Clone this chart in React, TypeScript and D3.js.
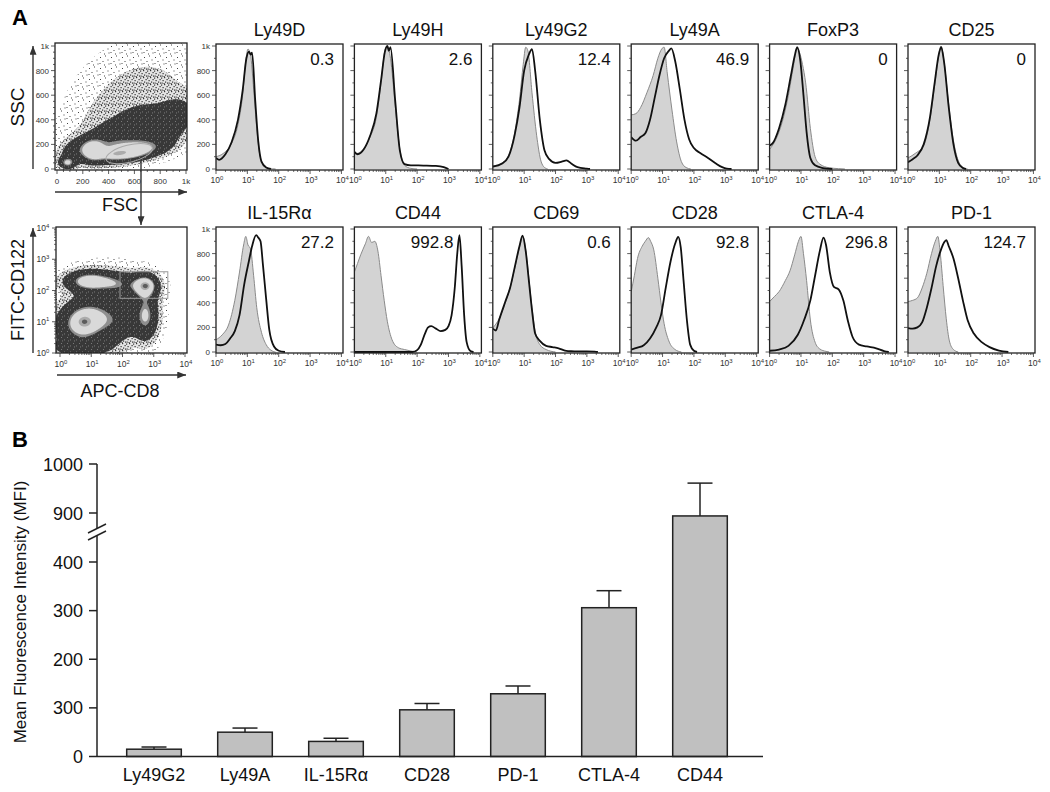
import React, { useEffect, useRef } from "react";
import * as d3 from "d3";

// ---------- panel A: histograms (x in log10 units, y = count) ----------
const histTitles = ["Ly49D", "Ly49H", "Ly49G2", "Ly49A", "FoxP3", "CD25", "IL-15R\u03b1", "CD44", "CD69", "CD28", "CTLA-4", "PD-1"];
const histValues = ["0.3", "2.6", "12.4", "46.9", "0", "0", "27.2", "992.8", "0.6", "92.8", "296.8", "124.7"];

const ly49dCtrl = [[0, 100], [0.25, 130], [0.5, 210], [0.7, 360], [0.85, 600], [0.95, 880], [1.02, 975], [1.1, 930], [1.2, 650], [1.3, 330], [1.4, 110], [1.55, 25], [1.7, 4], [1.9, 0]];
const ly49dStain = [[0, 90], [0.1, 75], [0.3, 120], [0.5, 220], [0.7, 400], [0.85, 640], [0.97, 900], [1.05, 955], [1.1, 930], [1.15, 945], [1.25, 560], [1.35, 220], [1.45, 60], [1.6, 12], [1.75, 0]];
const ly49hCtrl = [[0, 120], [0.25, 150], [0.5, 260], [0.7, 420], [0.85, 700], [0.97, 960], [1.05, 1000], [1.15, 900], [1.3, 520], [1.45, 160], [1.6, 30], [1.8, 5], [2.0, 0]];
const ly49hStain = [[0, 140], [0.1, 120], [0.3, 160], [0.5, 270], [0.7, 450], [0.85, 720], [0.97, 950], [1.05, 1000], [1.1, 960], [1.15, 990], [1.3, 560], [1.45, 150], [1.6, 40], [1.8, 30], [2.2, 28], [2.6, 25], [2.85, 15], [3.0, 0]];
const ly49g2Ctrl = [[0, 25], [0.3, 50], [0.5, 110], [0.7, 300], [0.85, 560], [0.97, 850], [1.05, 990], [1.12, 960], [1.25, 620], [1.4, 270], [1.52, 80], [1.62, 20], [1.75, 0]];
const ly49g2Stain = [[0, 20], [0.3, 45], [0.5, 100], [0.7, 280], [0.85, 500], [1.0, 800], [1.15, 930], [1.25, 975], [1.35, 800], [1.5, 400], [1.65, 150], [1.8, 80], [2.0, 50], [2.2, 60], [2.35, 70], [2.5, 45], [2.7, 15], [3.0, 3], [3.1, 0]];
const ly49aCtrl = [[0, 440], [0.15, 450], [0.3, 500], [0.5, 620], [0.7, 760], [0.85, 900], [0.97, 975], [1.05, 990], [1.15, 780], [1.3, 480], [1.45, 220], [1.6, 60], [1.75, 12], [1.9, 0]];
const ly49aStain = [[0, 260], [0.15, 230], [0.3, 260], [0.45, 290], [0.6, 400], [0.75, 580], [0.9, 760], [1.05, 900], [1.2, 960], [1.28, 980], [1.4, 880], [1.55, 650], [1.7, 400], [1.85, 240], [2.0, 170], [2.2, 130], [2.45, 90], [2.7, 45], [2.9, 15], [3.05, 3], [3.2, 0]];
const foxp3Ctrl = [[0, 160], [0.2, 240], [0.4, 380], [0.6, 600], [0.75, 820], [0.88, 980], [0.95, 950], [1.05, 850], [1.15, 700], [1.3, 330], [1.45, 100], [1.6, 40], [1.9, 10], [2.2, 3], [2.4, 0]];
const foxp3Stain = [[0, 190], [0.1, 210], [0.3, 330], [0.5, 520], [0.68, 760], [0.8, 920], [0.88, 990], [0.98, 880], [1.08, 600], [1.18, 300], [1.3, 90], [1.45, 30], [1.7, 8], [2.0, 0]];
const cd25Ctrl = [[0, 90], [0.25, 130], [0.5, 190], [0.7, 400], [0.85, 680], [0.98, 920], [1.05, 1000], [1.15, 870], [1.3, 520], [1.45, 230], [1.6, 70], [1.75, 15], [1.9, 0]];
const cd25Stain = [[0, 55], [0.15, 80], [0.3, 110], [0.5, 200], [0.7, 420], [0.85, 700], [0.98, 930], [1.06, 990], [1.15, 870], [1.3, 500], [1.45, 200], [1.6, 50], [1.75, 8], [1.85, 0]];
const il15raCtrl = [[0, 100], [0.2, 140], [0.4, 220], [0.6, 420], [0.75, 650], [0.88, 870], [0.95, 940], [1.02, 870], [1.1, 840], [1.2, 620], [1.3, 360], [1.45, 160], [1.6, 60], [1.75, 15], [1.9, 0]];
const il15raStain = [[0, 60], [0.15, 55], [0.3, 65], [0.45, 110], [0.6, 170], [0.75, 300], [0.9, 550], [1.05, 740], [1.15, 860], [1.28, 950], [1.35, 930], [1.42, 900], [1.5, 700], [1.6, 430], [1.7, 180], [1.85, 45], [2.0, 10], [2.2, 0]];
const cd44Ctrl = [[0, 650], [0.1, 720], [0.2, 790], [0.35, 880], [0.45, 940], [0.55, 890], [0.65, 900], [0.75, 820], [0.85, 620], [0.95, 420], [1.05, 250], [1.2, 100], [1.4, 35], [1.6, 20], [1.8, 8], [2.0, 0]];
const cd44Stain = [[0, 0], [1.85, 0], [2.0, 15], [2.12, 60], [2.25, 150], [2.35, 200], [2.45, 210], [2.6, 190], [2.75, 170], [2.9, 180], [3.0, 210], [3.1, 300], [3.2, 520], [3.28, 800], [3.35, 950], [3.42, 700], [3.5, 300], [3.58, 80], [3.7, 8], [3.8, 0]];
const cd69Ctrl = [[0, 195], [0.2, 270], [0.4, 400], [0.55, 520], [0.7, 680], [0.85, 850], [0.95, 940], [1.05, 830], [1.15, 600], [1.25, 360], [1.35, 170], [1.5, 60], [1.7, 20], [2.0, 0]];
const cd69Stain = [[0, 190], [0.1, 175], [0.2, 260], [0.4, 410], [0.55, 520], [0.7, 690], [0.85, 860], [0.95, 945], [1.05, 820], [1.15, 580], [1.25, 340], [1.35, 150], [1.5, 90], [1.7, 50], [1.9, 40], [2.1, 30], [2.3, 12], [2.5, 6], [3.0, 5], [3.25, 3], [3.35, 0]];
const cd28Ctrl = [[0, 490], [0.1, 620], [0.2, 760], [0.35, 860], [0.45, 900], [0.55, 930], [0.62, 900], [0.72, 830], [0.85, 600], [0.95, 400], [1.05, 230], [1.2, 90], [1.4, 20], [1.6, 0]];
const cd28Stain = [[0, 20], [0.2, 35], [0.4, 55], [0.6, 110], [0.8, 200], [0.95, 300], [1.1, 520], [1.25, 730], [1.4, 880], [1.5, 935], [1.58, 850], [1.67, 580], [1.78, 250], [1.88, 60], [2.0, 10], [2.1, 0]];
const ctla4Ctrl = [[0, 410], [0.15, 450], [0.3, 490], [0.5, 580], [0.65, 660], [0.8, 790], [0.92, 900], [1.0, 940], [1.08, 800], [1.18, 580], [1.3, 260], [1.45, 80], [1.6, 25], [1.8, 5], [1.9, 0]];
const ctla4Stain = [[0, 10], [0.3, 20], [0.6, 50], [0.9, 140], [1.1, 260], [1.3, 420], [1.45, 620], [1.6, 820], [1.72, 930], [1.8, 870], [1.92, 650], [2.05, 530], [2.2, 510], [2.35, 420], [2.5, 250], [2.65, 120], [2.85, 60], [3.1, 45], [3.4, 30], [3.65, 8], [3.8, 0]];
const pd1Ctrl = [[0, 410], [0.15, 420], [0.3, 440], [0.45, 520], [0.6, 640], [0.75, 800], [0.87, 900], [0.95, 940], [1.03, 800], [1.12, 540], [1.22, 270], [1.32, 90], [1.45, 20], [1.6, 0]];
const pd1Stain = [[0, 195], [0.15, 190], [0.3, 200], [0.45, 240], [0.6, 360], [0.75, 520], [0.9, 700], [1.05, 830], [1.15, 890], [1.22, 910], [1.3, 860], [1.45, 760], [1.6, 600], [1.75, 420], [1.9, 260], [2.1, 150], [2.35, 80], [2.6, 40], [2.9, 12], [3.2, 0]];

const histCtrl = [ly49dCtrl, ly49hCtrl, ly49g2Ctrl, ly49aCtrl, foxp3Ctrl, cd25Ctrl, il15raCtrl, cd44Ctrl, cd69Ctrl, cd28Ctrl, ctla4Ctrl, pd1Ctrl];
const histStain = [ly49dStain, ly49hStain, ly49g2Stain, ly49aStain, foxp3Stain, cd25Stain, il15raStain, cd44Stain, cd69Stain, cd28Stain, ctla4Stain, pd1Stain];

const countTicks = [0, 200, 400, 600, 800, 1000];
const countTickLabels = ["0", "200", "400", "600", "800", "1k"];
const decades = [0, 1, 2, 3, 4];

// ---------- panel A: dot plots, populations ----------
// [x, y, sdX, sdY, corr, height]
const fscSscClusters = [
  [650, 560, 300, 260, 0.3, 0.12],
  [580, 650, 320, 300, 0.2, 0.05],
  [360, 330, 220, 170, 0.3, 0.07],
  [150, 150, 90, 70, 0.3, 0.4],
  [400, 230, 130, 85, 0.3, 0.4],
  [680, 320, 150, 110, 0.3, 0.38],
  [920, 400, 100, 120, 0.3, 0.34],
  [280, 150, 55, 55, 0, 0.85],
  [560, 140, 165, 55, 0.45, 1.15],
  [470, 125, 50, 18, 0.3, 0.6],
  [80, 50, 40, 30, 0, 0.75],
];
const fscTicks = [0, 200, 400, 600, 800, 1000];
const fscTickLabels = ["0", "200", "400", "600", "800", "1k"];
const lymphGate = [560, 125, 185, 70, -14]; // cx, cy, rx, ry, rotation deg

const cd8Cd122Clusters = [
  [1.6, 1.6, 1.3, 1.1, 0, 0.12],
  [0.8, 1.0, 0.55, 0.45, 0.15, 1.0],
  [0.78, 1.0, 0.15, 0.12, 0, 0.5],
  [0.95, 2.3, 0.5, 0.22, 0, 0.9],
  [2.72, 2.15, 0.28, 0.25, 0, 0.95],
  [2.74, 2.15, 0.1, 0.08, 0, 0.5],
  [2.75, 1.2, 0.25, 0.5, 0, 0.7],
  [1.9, 2.2, 0.4, 0.25, 0, 0.45],
  [1.9, 1.0, 0.4, 0.45, 0, 0.35],
  [0.7, 0.15, 0.7, 0.2, 0, 0.35],
];
const cd8Gate = [1.92, 3.45, 1.75, 2.6]; // x0, x1, y0, y1 (log10)

// ---------- panel B: bar chart ----------
const barCategories = ["Ly49G2", "Ly49A", "IL-15R\u03b1", "CD28", "PD-1", "CTLA-4", "CD44"];
const barMeans = [15, 50, 31, 96, 129, 306, 894];
const barErrors = [4.5, 8.5, 6.5, 13, 16, 35, 67];
const mfiTicks = [0, 100, 200, 300, 400, 900, 1000];
const mfiTickLabels = ["0", "300", "200", "300", "400", "900", "1000"];

const FONT = "'Liberation Sans', Arial, Helvetica, sans-serif";

type Sel = d3.Selection<any, unknown, null, undefined>;

function logLabel(g: Sel, x: number, y: number, d: number, size: number) {
  const t = g.append("text").attr("x", x).attr("y", y).attr("text-anchor", "middle")
    .attr("font-size", size).attr("fill", "#333");
  t.append("tspan").text("10");
  t.append("tspan").attr("dy", -size * 0.4).attr("font-size", size * 0.7).text(String(d));
}

function mixture(cl: number[][], x: number, y: number) {
  let s = 0;
  for (const [mx, my, sx, sy, r, w] of cl) {
    const dx = (x - mx) / sx, dy = (y - my) / sy;
    s += w * Math.exp((-0.5 * (dx * dx - 2 * r * dx * dy + dy * dy)) / (1 - r * r));
  }
  return s;
}

function densityPlot(g: Sel, cl: number[][], x: d3.ScaleLinear<number, number>, y: d3.ScaleLinear<number, number>,
  box: number[], levels: number[], fills: string[]) {
  const [bx, by, bw, bh] = box;
  const vals = new Array(bw * bh);
  for (let j = 0; j < bh; j++) {
    for (let i = 0; i < bw; i++) {
      vals[j * bw + i] = mixture(cl, x.invert(bx + i + 0.5), y.invert(by + j + 0.5));
    }
  }
  const cs = d3.contours().size([bw, bh]).thresholds(levels)(vals);
  const path = d3.geoPath(d3.geoIdentity().translate([bx, by]) as any);
  g.selectAll(null).data(cs).enter().append("path")
    .attr("d", (d: any) => path(d) as string)
    .attr("fill", (_d, i) => fills[i]);
}

function speckle(defs: Sel, id: string, size: number, bg: string, dot: string, pts: number[][], s: number) {
  const p = defs.append("pattern").attr("id", id).attr("patternUnits", "userSpaceOnUse")
    .attr("width", size).attr("height", size);
  if (bg !== "none") p.append("rect").attr("width", size).attr("height", size).attr("fill", bg);
  pts.forEach(([cx, cy]) => p.append("rect").attr("x", cx).attr("y", cy).attr("width", s).attr("height", s).attr("fill", dot));
}

export default function App() {
  const ref = useRef<SVGSVGElement>(null);

  useEffect(() => {
    const svg = d3.select(ref.current) as unknown as Sel;
    svg.selectAll("*").remove();
    const defs = svg.append("defs");

    // textures for the dot-plot density levels
    speckle(defs, "dotsSparse", 11, "none", "#444",
      [[1, 2], [6, 0.5], [3.5, 6], [8.5, 4.5], [5, 9.5], [9.5, 8.5], [0.5, 8]], 1);
    speckle(defs, "dotsDense", 7, "#e4e4e4", "#333",
      [[0, 0.5], [3, 0], [5.5, 2], [1.5, 3], [4, 4.5], [0.5, 5.5], [6, 5.5], [2.5, 6]], 1.2);
    speckle(defs, "dotsDark", 6, "#383838", "#8a8a8a",
      [[1, 1], [4, 3.5], [2, 4.5]], 0.9);

    defs.append("marker").attr("id", "arrow").attr("viewBox", "0 0 10 8").attr("refX", 10).attr("refY", 4)
      .attr("markerWidth", 9).attr("markerHeight", 7).attr("markerUnits", "userSpaceOnUse").attr("orient", "auto")
      .append("path").attr("d", "M0,0L10,4L0,8z").attr("fill", "#333");

    // panel letters
    svg.append("text").attr("x", 12).attr("y", 25).attr("font-size", 22).attr("font-weight", "bold").text("A");
    svg.append("text").attr("x", 12).attr("y", 447).attr("font-size", 22).attr("font-weight", "bold").text("B");

    // ---------- histograms ----------
    const boxW = 127, boxH = 126;
    const rowTops = [44, 227];
    histTitles.forEach((title, k) => {
      const col = k % 6, row = Math.floor(k / 6);
      const left = 216 + col * 138.4, top = rowTops[row];
      const bottom = top + boxH;
      const g = svg.append("g");
      const x = d3.scaleLinear().domain([0, 4.05]).range([left, left + boxW]);
      const y = d3.scaleLinear().domain([0, 1000]).range([bottom - 1, top + 2]);
      const clipId = "clip" + k;
      defs.append("clipPath").attr("id", clipId).append("rect")
        .attr("x", left).attr("y", top).attr("width", boxW).attr("height", boxH);
      const area = d3.area<number[]>().x(d => x(d[0])).y0(y(0)).y1(d => y(d[1])).curve(d3.curveMonotoneX);
      const line = d3.line<number[]>().x(d => x(d[0])).y(d => y(d[1])).curve(d3.curveMonotoneX);
      const plot = g.append("g").attr("clip-path", `url(#${clipId})`);
      plot.append("path").attr("d", area(histCtrl[k]) as string).attr("fill", "#d3d3d3").attr("stroke", "none");
      plot.append("path").attr("d", line(histCtrl[k]) as string).attr("fill", "none").attr("stroke", "#8a8a8a").attr("stroke-width", 1);
      plot.append("path").attr("d", line(histStain[k]) as string).attr("fill", "none").attr("stroke", "#111").attr("stroke-width", 1.8);
      g.append("rect").attr("x", left).attr("y", top).attr("width", boxW).attr("height", boxH)
        .attr("fill", "none").attr("stroke", "#222").attr("stroke-width", 1.3);

      // left ticks
      d3.range(0, 1001, 100).forEach(v => {
        const len = v % 200 === 0 ? 4 : 2;
        g.append("line").attr("x1", left - len).attr("x2", left).attr("y1", y(v)).attr("y2", y(v))
          .attr("stroke", "#333").attr("stroke-width", 0.8);
      });
      if (col === 0) {
        countTicks.forEach((v, i) => g.append("text").attr("x", left - 6).attr("y", y(v) + 3)
          .attr("text-anchor", "end").attr("font-size", 8).attr("fill", "#333").text(countTickLabels[i]));
      }
      // bottom log ticks
      decades.forEach(d => {
        g.append("line").attr("x1", x(d)).attr("x2", x(d)).attr("y1", bottom).attr("y2", bottom + 4)
          .attr("stroke", "#333").attr("stroke-width", 0.8);
        logLabel(g, x(d) + 1, bottom + 13, d, 8.5);
        if (d < 4) d3.range(2, 10).forEach(m => {
          const xv = x(d + Math.log10(m));
          g.append("line").attr("x1", xv).attr("x2", xv).attr("y1", bottom).attr("y2", bottom + 2)
            .attr("stroke", "#333").attr("stroke-width", 0.7);
        });
      });
      g.append("text").attr("x", left + boxW / 2).attr("y", top - 8).attr("text-anchor", "middle")
        .attr("font-size", 18).attr("fill", "#111").text(title);
      // CD44's value sits left of its tall right-hand peak
      const inset = title === "CD44" ? 28 : 9;
      g.append("text").attr("x", left + boxW - inset).attr("y", top + 21).attr("text-anchor", "end")
        .attr("font-size", 17).attr("fill", "#111").text(histValues[k]);
    });

    const levels = ["url(#dotsSparse)", "url(#dotsDense)", "url(#dotsDark)", "#8f8f8f", "#d9d9d9", "#ababab", "#5c5c5c"];

    // ---------- FSC / SSC ----------
    {
      const g = svg.append("g");
      const box = [55, 43, 132, 127];
      const x = d3.scaleLinear().domain([0, 1000]).range([57, 186]);
      const y = d3.scaleLinear().domain([0, 1000]).range([169, 46]);
      densityPlot(g, fscSscClusters, x, y, box, [0.03, 0.11, 0.24, 0.7, 0.82, 1.6, 1.9], levels);
      const [gx, gy, grx, gry, grot] = lymphGate;
      const pxr = x(grx) - x(0), pyr = y(0) - y(gry);
      g.append("ellipse").attr("cx", x(gx)).attr("cy", y(gy)).attr("rx", pxr).attr("ry", pyr)
        .attr("transform", `rotate(${grot},${x(gx)},${y(gy)})`)
        .attr("fill", "none").attr("stroke", "#aaa").attr("stroke-width", 1);
      g.append("rect").attr("x", box[0]).attr("y", box[1]).attr("width", box[2]).attr("height", box[3])
        .attr("fill", "none").attr("stroke", "#222").attr("stroke-width", 1.3);
      d3.range(0, 1001, 50).forEach(v => {
        const len = v % 200 === 0 ? 4 : 2;
        g.append("line").attr("x1", x(v)).attr("x2", x(v)).attr("y1", 170).attr("y2", 170 + len).attr("stroke", "#333").attr("stroke-width", 0.8);
        g.append("line").attr("x1", 55 - len).attr("x2", 55).attr("y1", y(v)).attr("y2", y(v)).attr("stroke", "#333").attr("stroke-width", 0.8);
      });
      fscTicks.forEach((v, i) => {
        g.append("text").attr("x", x(v)).attr("y", 184).attr("text-anchor", "middle").attr("font-size", 8).attr("fill", "#333").text(fscTickLabels[i]);
        g.append("text").attr("x", 49).attr("y", y(v) + 3).attr("text-anchor", "end").attr("font-size", 8).attr("fill", "#333").text(fscTickLabels[i]);
      });
      g.append("line").attr("x1", 33).attr("x2", 33).attr("y1", 169).attr("y2", 46).attr("stroke", "#333").attr("stroke-width", 1.4).attr("marker-end", "url(#arrow)");
      g.append("line").attr("x1", 55).attr("x2", 187).attr("y1", 192).attr("y2", 192).attr("stroke", "#333").attr("stroke-width", 1.4).attr("marker-end", "url(#arrow)");
      g.append("text").attr("transform", "translate(24,107) rotate(-90)").attr("text-anchor", "middle").attr("font-size", 19).attr("fill", "#111").text("SSC");
      g.append("text").attr("x", 120).attr("y", 211).attr("text-anchor", "middle").attr("font-size", 18).attr("fill", "#111").text("FSC");
      // gate connector
      g.append("line").attr("x1", 141).attr("x2", 141).attr("y1", 160).attr("y2", 225).attr("stroke", "#333").attr("stroke-width", 1.4).attr("marker-end", "url(#arrow)");
    }

    // ---------- CD8 / CD122 ----------
    {
      const g = svg.append("g");
      const box = [56, 227, 131, 126];
      const x = d3.scaleLinear().domain([0, 4]).range([60, 185]);
      const y = d3.scaleLinear().domain([0, 4]).range([353, 228]);
      densityPlot(g, cd8Cd122Clusters, x, y, box, [0.05, 0.12, 0.25, 0.68, 0.76, 1.25, 1.5], levels);
      const [x0, x1, y0, y1] = cd8Gate;
      g.append("rect").attr("x", x(x0)).attr("y", y(y1)).attr("width", x(x1) - x(x0)).attr("height", y(y0) - y(y1))
        .attr("fill", "none").attr("stroke", "#999").attr("stroke-width", 1);
      g.append("rect").attr("x", box[0]).attr("y", box[1]).attr("width", box[2]).attr("height", box[3])
        .attr("fill", "none").attr("stroke", "#222").attr("stroke-width", 1.3);
      decades.forEach(d => {
        g.append("line").attr("x1", x(d)).attr("x2", x(d)).attr("y1", 353).attr("y2", 357).attr("stroke", "#333").attr("stroke-width", 0.8);
        g.append("line").attr("x1", 52).attr("x2", 56).attr("y1", y(d)).attr("y2", y(d)).attr("stroke", "#333").attr("stroke-width", 0.8);
        logLabel(g, x(d) + 1, 367, d, 8.5);
        logLabel(g, 43, y(d) + 3, d, 8.5);
        if (d < 4) d3.range(2, 10).forEach(m => {
          const lv = d + Math.log10(m);
          g.append("line").attr("x1", x(lv)).attr("x2", x(lv)).attr("y1", 353).attr("y2", 355).attr("stroke", "#333").attr("stroke-width", 0.7);
          g.append("line").attr("x1", 54).attr("x2", 56).attr("y1", y(lv)).attr("y2", y(lv)).attr("stroke", "#333").attr("stroke-width", 0.7);
        });
      });
      g.append("line").attr("x1", 33).attr("x2", 33).attr("y1", 353).attr("y2", 228).attr("stroke", "#333").attr("stroke-width", 1.4).attr("marker-end", "url(#arrow)");
      g.append("line").attr("x1", 57).attr("x2", 186).attr("y1", 375).attr("y2", 375).attr("stroke", "#333").attr("stroke-width", 1.4).attr("marker-end", "url(#arrow)");
      g.append("text").attr("transform", "translate(24,290) rotate(-90)").attr("text-anchor", "middle").attr("font-size", 18).attr("fill", "#111").text("FITC-CD122");
      g.append("text").attr("x", 120).attr("y", 397).attr("text-anchor", "middle").attr("font-size", 18).attr("fill", "#111").text("APC-CD8");
    }

    // ---------- panel B ----------
    {
      const g = svg.append("g");
      const axisX = 97;
      const x = d3.scaleBand().domain(barCategories).range([108.5, 745.5]).paddingInner(0.4).paddingOuter(0.2);
      // broken axis: 400 and 800 share the same pixel
      const y = d3.scaleLinear().domain([0, 400, 800, 1000]).range([756.5, 562, 562, 464]);
      barCategories.forEach((c, i) => {
        const x0 = x(c) as number, bw = x.bandwidth(), cx = x0 + bw / 2;
        const top = y(barMeans[i] + barErrors[i]);
        g.append("line").attr("x1", cx).attr("x2", cx).attr("y1", y(barMeans[i])).attr("y2", top)
          .attr("stroke", "#222").attr("stroke-width", 1.5);
        g.append("line").attr("x1", cx - 12.5).attr("x2", cx + 12.5).attr("y1", top).attr("y2", top)
          .attr("stroke", "#222").attr("stroke-width", 1.5);
        g.append("rect").attr("x", x0).attr("y", y(barMeans[i])).attr("width", bw).attr("height", y(0) - y(barMeans[i]))
          .attr("fill", "#c0c0c0").attr("stroke", "#222").attr("stroke-width", 1.5);
        g.append("text").attr("x", cx).attr("y", 781).attr("text-anchor", "middle").attr("font-size", 18).attr("fill", "#111").text(c);
      });
      g.append("line").attr("x1", axisX).attr("x2", 763).attr("y1", y(0)).attr("y2", y(0)).attr("stroke", "#222").attr("stroke-width", 1.5);
      g.append("line").attr("x1", axisX).attr("x2", axisX).attr("y1", 464).attr("y2", 528.5).attr("stroke", "#222").attr("stroke-width", 1.5);
      g.append("line").attr("x1", axisX).attr("x2", axisX).attr("y1", 535.5).attr("y2", y(0)).attr("stroke", "#222").attr("stroke-width", 1.5);
      [[533, 524], [540, 531]].forEach(([ya, yb]) =>
        g.append("line").attr("x1", 88).attr("x2", 106).attr("y1", ya).attr("y2", yb).attr("stroke", "#222").attr("stroke-width", 1.5));
      mfiTicks.forEach((v, i) => {
        g.append("line").attr("x1", 89).attr("x2", axisX).attr("y1", y(v)).attr("y2", y(v)).attr("stroke", "#222").attr("stroke-width", 1.5);
        g.append("text").attr("x", 83).attr("y", y(v) + 6.5).attr("text-anchor", "end").attr("font-size", 18).attr("fill", "#111").text(mfiTickLabels[i]);
      });
      g.append("text").attr("transform", "translate(26,612) rotate(-90)").attr("text-anchor", "middle")
        .attr("font-size", 17).attr("fill", "#111").text("Mean Fluorescence Intensity (MFI)");
    }
  }, []);

  return (
    <svg ref={ref} width={1050} height={792} fontFamily={FONT}
      style={{ position: "absolute", left: 0, top: 0, background: "#fff" }} />
  );
}
